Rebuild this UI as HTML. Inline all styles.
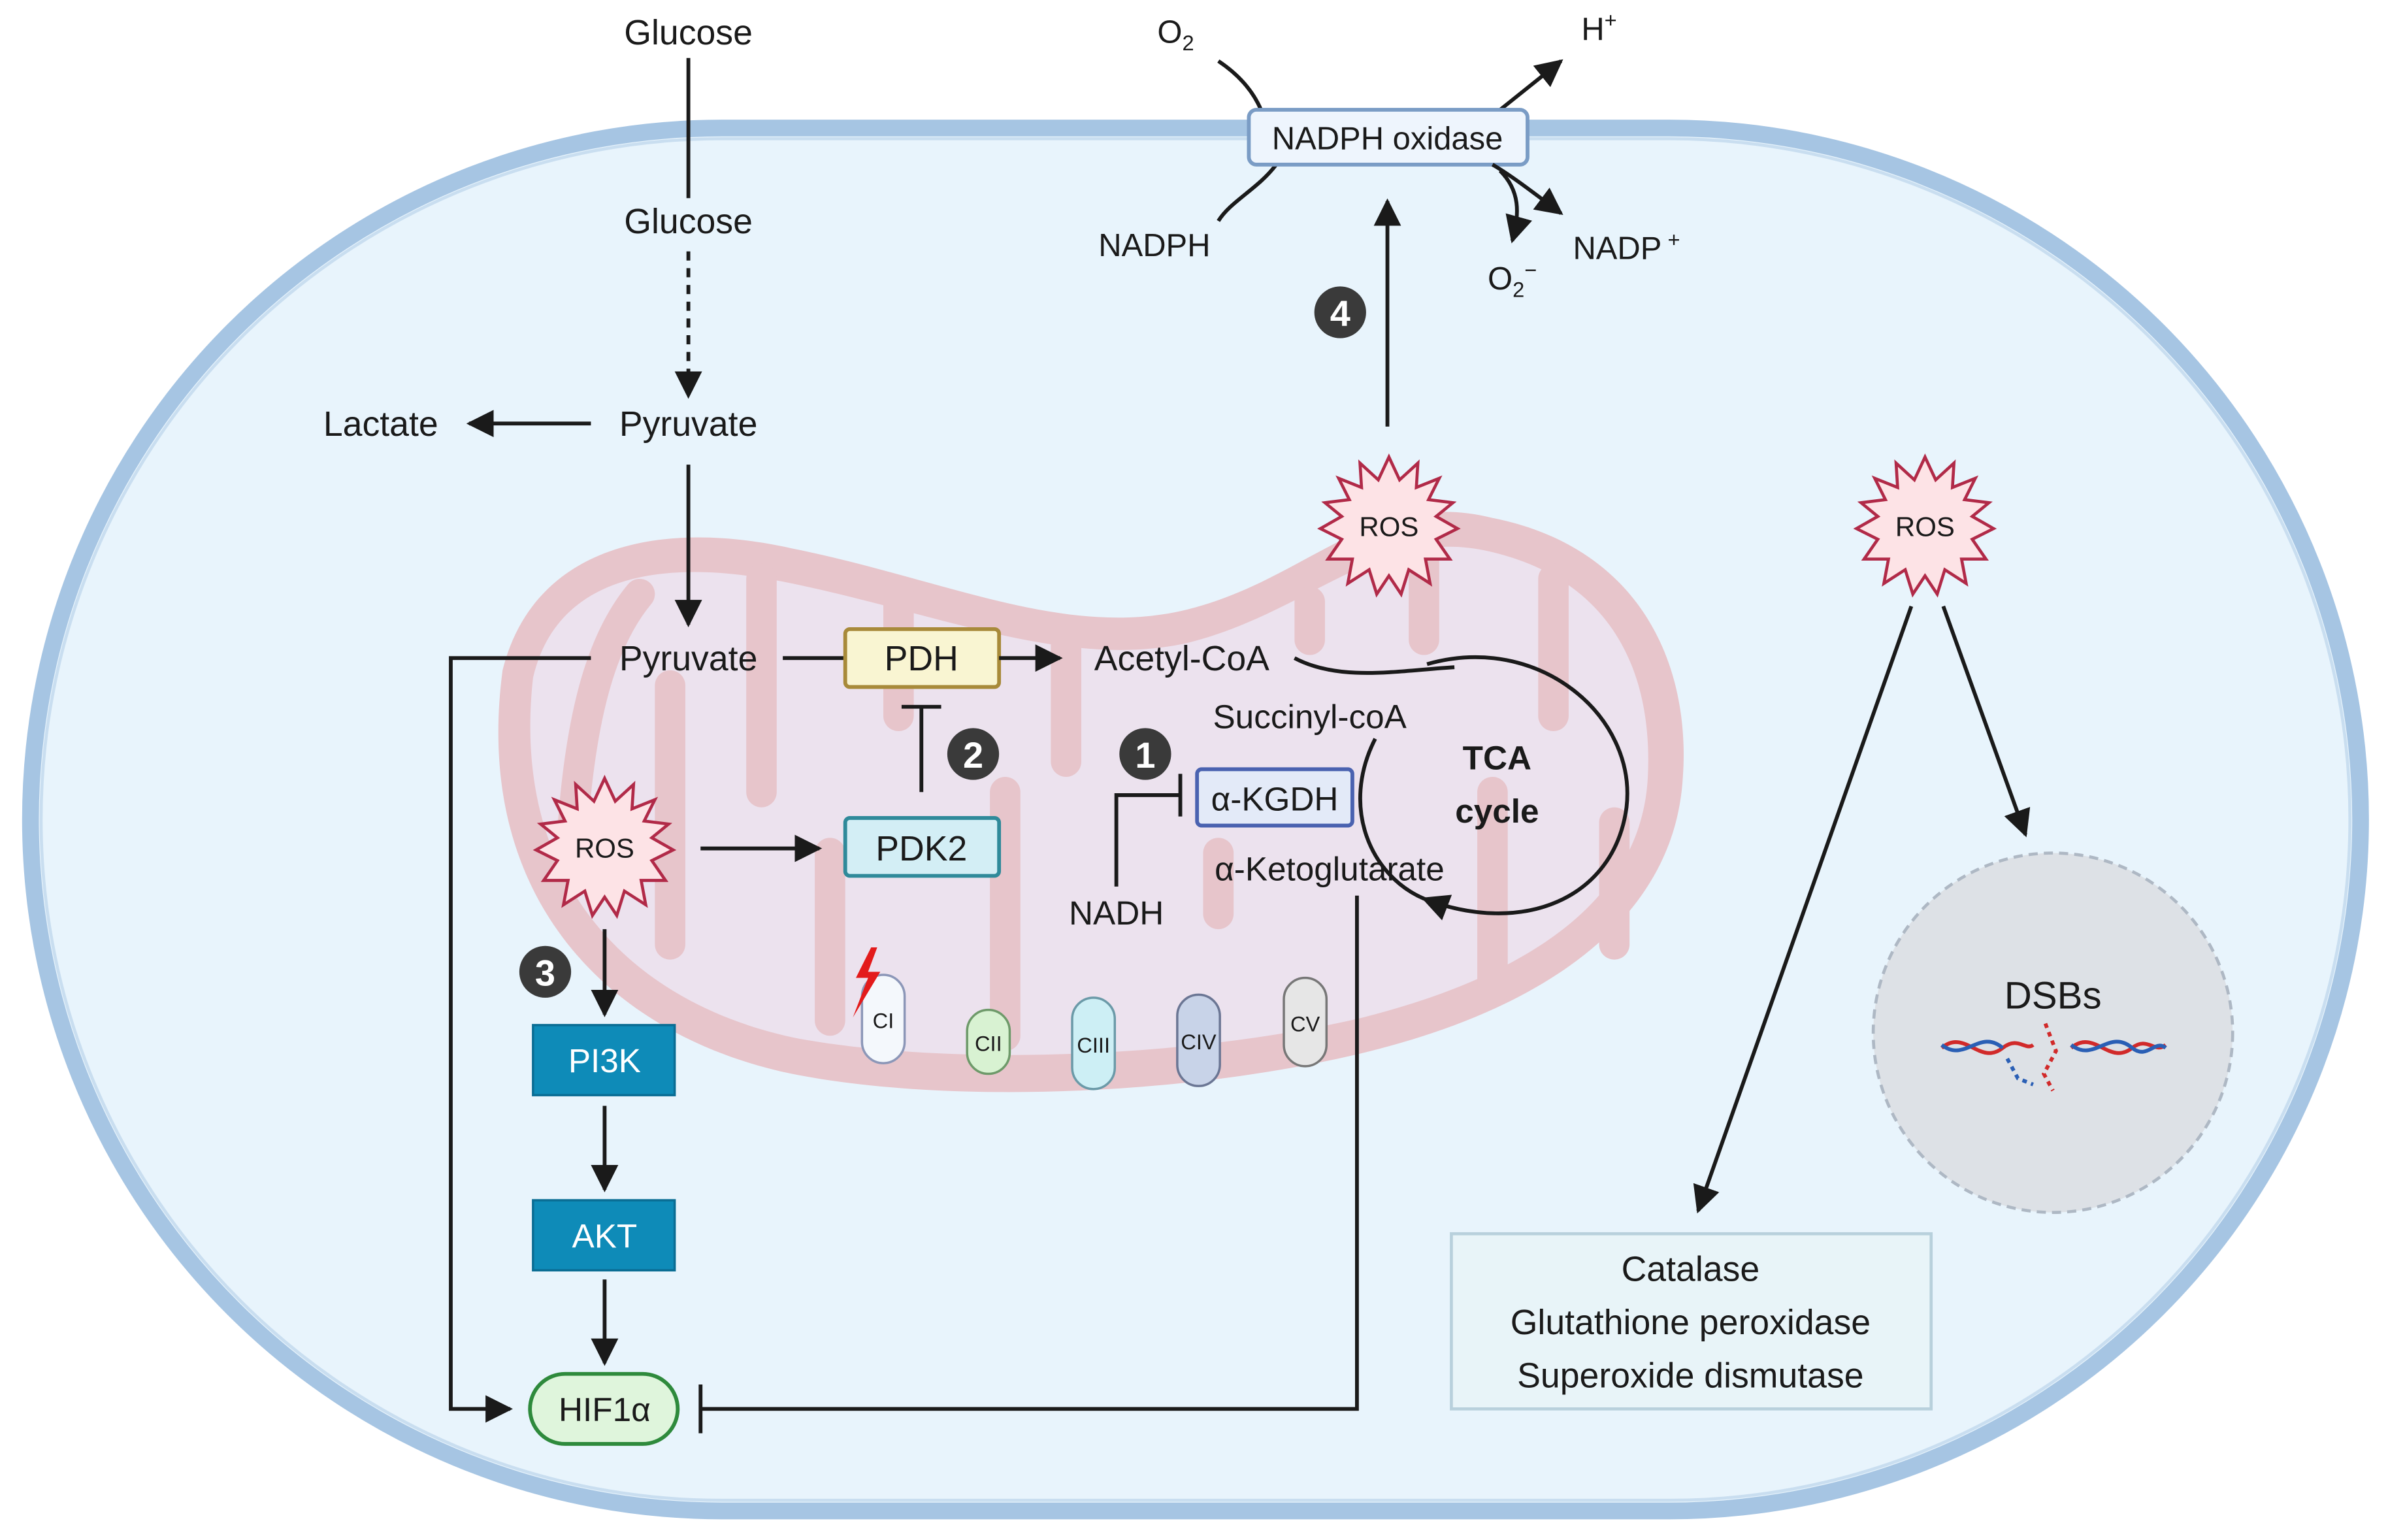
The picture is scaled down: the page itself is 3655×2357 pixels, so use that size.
<!DOCTYPE html>
<html><head><meta charset="utf-8"><style>html,body{margin:0;padding:0;background:#fff}svg{display:block}text{font-family:"Liberation Sans",sans-serif;fill:#1a1a1a}</style></head>
<body>
<svg width="3655" height="2357" viewBox="0 0 1568 1011" xmlns="http://www.w3.org/2000/svg">
<defs>
<marker id="a" viewBox="0 0 10 10" refX="9" refY="5" markerWidth="18" markerHeight="18" orient="auto" markerUnits="userSpaceOnUse"><path d="M0,0L10,5L0,10z" fill="#1a1a1a"/></marker>
<g id="ros"><polygon points="0,-45 7,-30 19,-41 18,-25 33,-31 26,-17 42,-15 31,-6 45,2 31,9 40,22 24,22 27,38 13,29 8,45 0,33 -8,45 -13,29 -27,38 -24,22 -40,22 -31,9 -45,2 -31,-6 -42,-15 -26,-17 -33,-31 -18,-25 -19,-41 -7,-30" fill="#fde3e6" stroke="#b12a48" stroke-width="2"/></g>
</defs>
<rect width="1568" height="1011" fill="#fff"/>
<!-- cell -->
<rect x="20" y="84" width="1530" height="908" rx="454" ry="454" fill="#e8f4fc" stroke="#a6c5e3" stroke-width="11"/>
<rect x="27" y="91" width="1516" height="894" rx="447" ry="447" fill="none" stroke="#c9def0" stroke-width="2"/>
<!-- mitochondrion -->
<path d="M330,440 C350,360 430,340 520,360 C620,380 700,420 780,400 C860,380 900,320 980,340 C1080,360 1110,440 1105,510 C1100,600 1020,660 900,690 C780,720 620,725 520,705 C400,680 310,590 330,440Z" fill="#e7c5cb"/>
<path d="M350,445 C365,380 430,365 515,382 C615,402 700,440 780,422 C860,402 905,345 978,362 C1065,382 1085,450 1082,510 C1078,590 1005,640 895,668 C780,695 625,700 525,682 C415,660 335,580 350,445Z" fill="#ece2ee"/>
<g stroke="#e7c5cb" stroke-width="20" stroke-linecap="round" fill="none">
<path d="M375,560 C380,470 395,420 420,390"/>
<path d="M440,620 L440,450"/>
<path d="M500,380 L500,520"/>
<path d="M545,670 L545,560"/>
<path d="M590,390 L590,470"/>
<path d="M660,680 L660,520"/>
<path d="M700,420 L700,500"/>
<path d="M860,395 L860,420"/>
<path d="M935,360 L935,420"/>
<path d="M980,650 L980,520"/>
<path d="M1020,380 L1020,470"/>
<path d="M1060,620 L1060,540"/>
<path d="M800,600 L800,560"/>
</g>
<!-- complexes -->
<rect x="566" y="640" width="28" height="58" rx="14" fill="#f4f8fc" stroke="#8c97b8" stroke-width="1.5"/><text x="580" y="675" font-size="14" text-anchor="middle">CI</text>
<path d="M572,622 L562,642 L570,642 L560,668 L578,638 L570,638 L576,622Z" fill="#e31b1b"/>
<rect x="635" y="663" width="28" height="42" rx="14" fill="#d8f2d2" stroke="#6e9a6a" stroke-width="1.5"/><text x="649" y="690" font-size="14" text-anchor="middle">CII</text>
<rect x="704" y="655" width="28" height="60" rx="14" fill="#cdeff5" stroke="#6b9aa8" stroke-width="1.5"/><text x="718" y="691" font-size="14" text-anchor="middle">CIII</text>
<rect x="773" y="653" width="28" height="60" rx="14" fill="#c8d3e8" stroke="#6b7694" stroke-width="1.5"/><text x="787" y="689" font-size="14" text-anchor="middle">CIV</text>
<rect x="843" y="642" width="28" height="58" rx="14" fill="#e6e6e6" stroke="#777" stroke-width="1.5"/><text x="857" y="677" font-size="14" text-anchor="middle">CV</text>
<!-- top -->
<text x="452" y="29" font-size="23" text-anchor="middle">Glucose</text>
<line x1="452" y1="38" x2="452" y2="130" stroke="#1a1a1a" stroke-width="2.5"/>
<text x="452" y="153" font-size="23" text-anchor="middle">Glucose</text>
<line x1="452" y1="165" x2="452" y2="260" stroke="#1a1a1a" stroke-width="2.5" stroke-dasharray="6,5" marker-end="url(#a)"/>
<text x="452" y="286" font-size="23" text-anchor="middle">Pyruvate</text>
<line x1="388" y1="278" x2="308" y2="278" stroke="#1a1a1a" stroke-width="2.5" marker-end="url(#a)"/>
<text x="250" y="286" font-size="23" text-anchor="middle">Lactate</text>
<line x1="452" y1="305" x2="452" y2="410" stroke="#1a1a1a" stroke-width="2.5" marker-end="url(#a)"/>
<text x="452" y="440" font-size="23" text-anchor="middle">Pyruvate</text>
<polyline points="388,432 296,432 296,925 335,925" fill="none" stroke="#1a1a1a" stroke-width="2.5" marker-end="url(#a)"/>
<line x1="514" y1="432" x2="555" y2="432" stroke="#1a1a1a" stroke-width="2.5"/>
<rect x="555" y="413" width="101" height="38" rx="3" fill="#f9f5d2" stroke="#a88a3a" stroke-width="2.5"/>
<text x="605" y="440" font-size="23" text-anchor="middle">PDH</text>
<line x1="656" y1="432" x2="696" y2="432" stroke="#1a1a1a" stroke-width="2.5" marker-end="url(#a)"/>
<text x="776" y="440" font-size="23" text-anchor="middle">Acetyl-CoA</text>
<line x1="605" y1="520" x2="605" y2="464" stroke="#1a1a1a" stroke-width="2.5"/>
<line x1="592" y1="464" x2="618" y2="464" stroke="#1a1a1a" stroke-width="2.5"/>
<circle cx="639" cy="495" r="17" fill="#3a3a3a"/><text x="639" y="504" font-size="24" font-weight="bold" text-anchor="middle" style="fill:#fff">2</text>
<rect x="555" y="537" width="101" height="38" rx="3" fill="#d3eef5" stroke="#2f8a9a" stroke-width="2.5"/>
<text x="605" y="565" font-size="23" text-anchor="middle">PDK2</text>
<use href="#ros" x="397" y="556"/>
<text x="397" y="563" font-size="18" text-anchor="middle">ROS</text>
<line x1="460" y1="557" x2="538" y2="557" stroke="#1a1a1a" stroke-width="2.5" marker-end="url(#a)"/>
<circle cx="358" cy="638" r="17" fill="#3a3a3a"/><text x="358" y="647" font-size="24" font-weight="bold" text-anchor="middle" style="fill:#fff">3</text>
<line x1="397" y1="610" x2="397" y2="666" stroke="#1a1a1a" stroke-width="2.5" marker-end="url(#a)"/>
<rect x="350" y="673" width="93" height="46" fill="#0e8bb8" stroke="#0a6d94" stroke-width="1.5"/>
<text x="397" y="704" font-size="22" text-anchor="middle" style="fill:#fff">PI3K</text>
<line x1="397" y1="726" x2="397" y2="781" stroke="#1a1a1a" stroke-width="2.5" marker-end="url(#a)"/>
<rect x="350" y="788" width="93" height="46" fill="#0e8bb8" stroke="#0a6d94" stroke-width="1.5"/>
<text x="397" y="819" font-size="22" text-anchor="middle" style="fill:#fff">AKT</text>
<line x1="397" y1="840" x2="397" y2="895" stroke="#1a1a1a" stroke-width="2.5" marker-end="url(#a)"/>
<rect x="348" y="902" width="97" height="46" rx="23" fill="#dff5dc" stroke="#2e8a3c" stroke-width="2.5"/>
<text x="397" y="933" font-size="22" text-anchor="middle">HIF1α</text>
<polyline points="891,588 891,925 460,925" fill="none" stroke="#1a1a1a" stroke-width="2.5"/>
<line x1="460" y1="909" x2="460" y2="941" stroke="#1a1a1a" stroke-width="2.5"/>
<!-- TCA -->
<path d="M850,432 C880,448 920,440 955,438" fill="none" stroke="#1a1a1a" stroke-width="2.5"/>
<path d="M903,485 C880,530 900,575 935,590" fill="none" stroke="#1a1a1a" stroke-width="2.5"/>
<path d="M937,436 C1010,415 1075,470 1068,530 C1060,590 1000,615 935,590" fill="none" stroke="#1a1a1a" stroke-width="2.5" marker-end="url(#a)"/>
<text x="860" y="478" font-size="22" text-anchor="middle">Succinyl-coA</text>
<text x="983" y="505" font-size="22" font-weight="bold" text-anchor="middle">TCA</text>
<text x="983" y="540" font-size="22" font-weight="bold" text-anchor="middle">cycle</text>
<rect x="786" y="505" width="102" height="37" rx="3" fill="#e3eaf8" stroke="#4a62b0" stroke-width="2.5"/>
<text x="837" y="532" font-size="22" text-anchor="middle">α-KGDH</text>
<text x="873" y="578" font-size="22" text-anchor="middle">α-Ketoglutarate</text>
<circle cx="752" cy="495" r="17" fill="#3a3a3a"/><text x="752" y="504" font-size="24" font-weight="bold" text-anchor="middle" style="fill:#fff">1</text>
<polyline points="733,582 733,522 775,522" fill="none" stroke="#1a1a1a" stroke-width="2.5"/>
<line x1="775" y1="508" x2="775" y2="536" stroke="#1a1a1a" stroke-width="2.5"/>
<text x="733" y="607" font-size="22" text-anchor="middle">NADH</text>
<!-- NADPH oxidase -->
<text x="772" y="28" font-size="21" text-anchor="middle">O<tspan font-size="14" dy="5">2</tspan></text>
<text x="1050" y="26" font-size="21" text-anchor="middle">H<tspan font-size="14" dy="-8">+</tspan></text>
<path d="M800,40 C812,48 822,58 828,72" fill="none" stroke="#1a1a1a" stroke-width="2.5"/>
<line x1="985" y1="72" x2="1025" y2="40" stroke="#1a1a1a" stroke-width="2.5" marker-end="url(#a)"/>
<path d="M838,108 C826,124 808,132 800,145" fill="none" stroke="#1a1a1a" stroke-width="2.5"/>
<rect x="820" y="72" width="183" height="36" rx="5" fill="#eef5fd" stroke="#7a9cc5" stroke-width="2.5"/>
<text x="911" y="98" font-size="21" text-anchor="middle">NADPH oxidase</text>
<text x="758" y="168" font-size="21" text-anchor="middle">NADPH</text>
<path d="M980,108 C992,115 1005,125 1025,140" fill="none" stroke="#1a1a1a" stroke-width="2.5" marker-end="url(#a)"/>
<path d="M985,112 C998,125 998,140 993,158" fill="none" stroke="#1a1a1a" stroke-width="2.5" marker-end="url(#a)"/>
<text x="1068" y="170" font-size="21" text-anchor="middle">NADP<tspan font-size="14" dy="-8"> +</tspan></text>
<text x="993" y="190" font-size="21" text-anchor="middle">O<tspan font-size="14" dy="5">2</tspan><tspan font-size="14" dy="-13">−</tspan></text>
<line x1="911" y1="280" x2="911" y2="132" stroke="#1a1a1a" stroke-width="2.5" marker-end="url(#a)"/>
<circle cx="880" cy="205" r="17" fill="#3a3a3a"/><text x="880" y="214" font-size="24" font-weight="bold" text-anchor="middle" style="fill:#fff">4</text>
<use href="#ros" x="912" y="345"/>
<text x="912" y="352" font-size="18" text-anchor="middle">ROS</text>
<use href="#ros" x="1264" y="345"/>
<text x="1264" y="352" font-size="18" text-anchor="middle">ROS</text>
<line x1="1255" y1="398" x2="1115" y2="795" stroke="#1a1a1a" stroke-width="2.5" marker-end="url(#a)"/>
<line x1="1276" y1="398" x2="1330" y2="548" stroke="#1a1a1a" stroke-width="2.5" marker-end="url(#a)"/>
<circle cx="1348" cy="678" r="118" fill="#dde1e6" stroke="#aeb8c4" stroke-width="2" stroke-dasharray="6,4"/>
<text x="1348" y="662" font-size="25" text-anchor="middle">DSBs</text>
<path d="M1275,688 C1290,675 1300,700 1315,688 C1325,680 1330,690 1335,686" fill="none" stroke="#d12a2a" stroke-width="2.5"/>
<path d="M1275,686 C1290,698 1300,675 1315,688" fill="none" stroke="#2a5fb5" stroke-width="2.5"/>
<path d="M1360,688 C1375,675 1385,700 1400,688 C1410,680 1415,692 1422,686" fill="none" stroke="#d12a2a" stroke-width="2.5"/>
<path d="M1360,686 C1375,698 1385,675 1400,688 C1410,696 1415,682 1422,688" fill="none" stroke="#2a5fb5" stroke-width="2.5"/>
<path d="M1343,672 L1350,690 L1342,705 L1348,716" fill="none" stroke="#d12a2a" stroke-width="2.5" stroke-dasharray="3,3"/>
<path d="M1318,695 L1325,708 L1335,712" fill="none" stroke="#2a5fb5" stroke-width="2.5" stroke-dasharray="3,3"/>
<rect x="953" y="810" width="315" height="115" fill="#e8f4f8" stroke="#b8d0dc" stroke-width="2"/>
<text x="1110" y="841" font-size="23" text-anchor="middle">Catalase</text>
<text x="1110" y="876" font-size="23" text-anchor="middle">Glutathione peroxidase</text>
<text x="1110" y="911" font-size="23" text-anchor="middle">Superoxide dismutase</text>
</svg>
</body></html>
